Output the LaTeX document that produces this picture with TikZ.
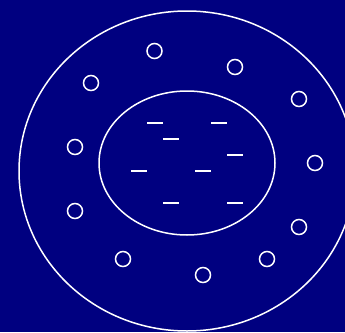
\documentclass[tikz,border=0pt]{standalone}
\definecolor{navy}{HTML}{000080}
\begin{document}
\begin{tikzpicture}[x=1pt,y=-1pt,
  ring/.style={draw=white,line width=1.5pt},
  dot/.style={draw=white,line width=1.5pt},
  bar/.style={draw=white,line width=2pt}]
\fill[navy] (0,0) rectangle (345,332);
\useasboundingbox (0,0) rectangle (345,332);
\begin{scope}
\clip (0,0) rectangle (345,332);
\draw[ring] (187,171) ellipse [x radius=168, y radius=160];
\end{scope}
\draw[ring] (187,163) ellipse [x radius=88, y radius=72];
\foreach \x/\y in {154.5/51, 235/67, 91/83, 299/99, 75/147, 315/163, 75/211, 299/227, 123/259, 267/259, 203/275}
  \draw[dot] (\x,\y) circle [radius=7.5];
\foreach \x/\y in {147/123, 211/123, 163/139, 227/155, 131/171, 195/171, 163/203, 227/203}
  \draw[bar] (\x,\y) -- ++(16,0);
\end{tikzpicture}
\end{document}
